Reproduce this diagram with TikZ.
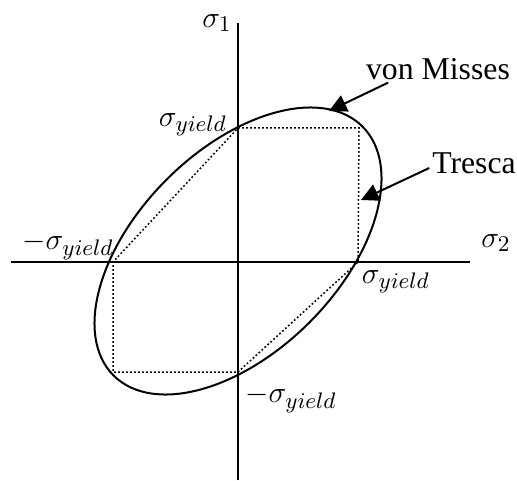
\documentclass[tikz,border=0pt,12pt]{standalone}
\usepackage{fontspec}
\newfontfamily\labelfont{Liberation Serif}
\usetikzlibrary{arrows.meta,calc}
\tikzset{
	axisline/.style={line width=0.8pt},
	misesline/.style={line width=0.8pt},
	trescaline/.style={dash pattern=on 0.7pt off 0.9pt, line width=0.6pt},
	txtlabel/.style={inner sep=1pt, font=\labelfont\fontsize{12.7}{15}\selectfont},
	mathlabel/.style={inner sep=1pt, font=\fontsize{13}{15}\selectfont},
	callarr/.style={-{Triangle[length=7pt,width=7pt]}, line width=0.8pt}
}

\begin{document}
\begin{tikzpicture}[x=0.4pt,y=0.4pt]
			\useasboundingbox (0,0) rectangle (517,480);
			% axes
			\draw[axisline] (11,218) -- (470,218);
			\draw[axisline] (238,0) -- (238,457);
			\node[mathlabel] (s1) at (217,457) {$\sigma_1$};
			\node[mathlabel] (s2) at (496,237) {$\sigma_2$};
			% von Mises ellipse
			\coordinate (c) at (238,229);
			\draw[misesline, rotate around={45:(c)}] (c) ellipse (70.4pt and 40.4pt);
			% Tresca hexagon
			\coordinate (ht) at (238,352);
			\coordinate (htr) at (359,352);
			\coordinate (hr) at (358,218);
			\coordinate (hb) at (238,108);
			\coordinate (hbl) at (113,108);
			\coordinate (hl) at (113,218);
			\draw[trescaline] (ht)--(htr)--(hr)--(hb)--(hbl)--(hl)--cycle;
			% yield labels
			\node[mathlabel] (yt) at (193,355) {$\sigma_{yield}$};
			\node[mathlabel] (yl) at (68,234) {$-\sigma_{yield}$};
			\node[mathlabel] (yr) at (396,198) {$\sigma_{yield}$};
			\node[mathlabel] (yb) at (291,81) {$-\sigma_{yield}$};
			% callouts
			\node[txtlabel] (vm) at (438,411) {von Misses};
			\node[txtlabel] (ts) at (474,317) {Tresca};
			\coordinate (vmtip) at (329,369);
			\coordinate (tstip) at (361,280);
			\draw[callarr] ([xshift=10pt]vm.south west) -- (vmtip);
			\draw[callarr] ([yshift=-2pt]ts.west) -- (tstip);
		\end{tikzpicture}
\end{document}
